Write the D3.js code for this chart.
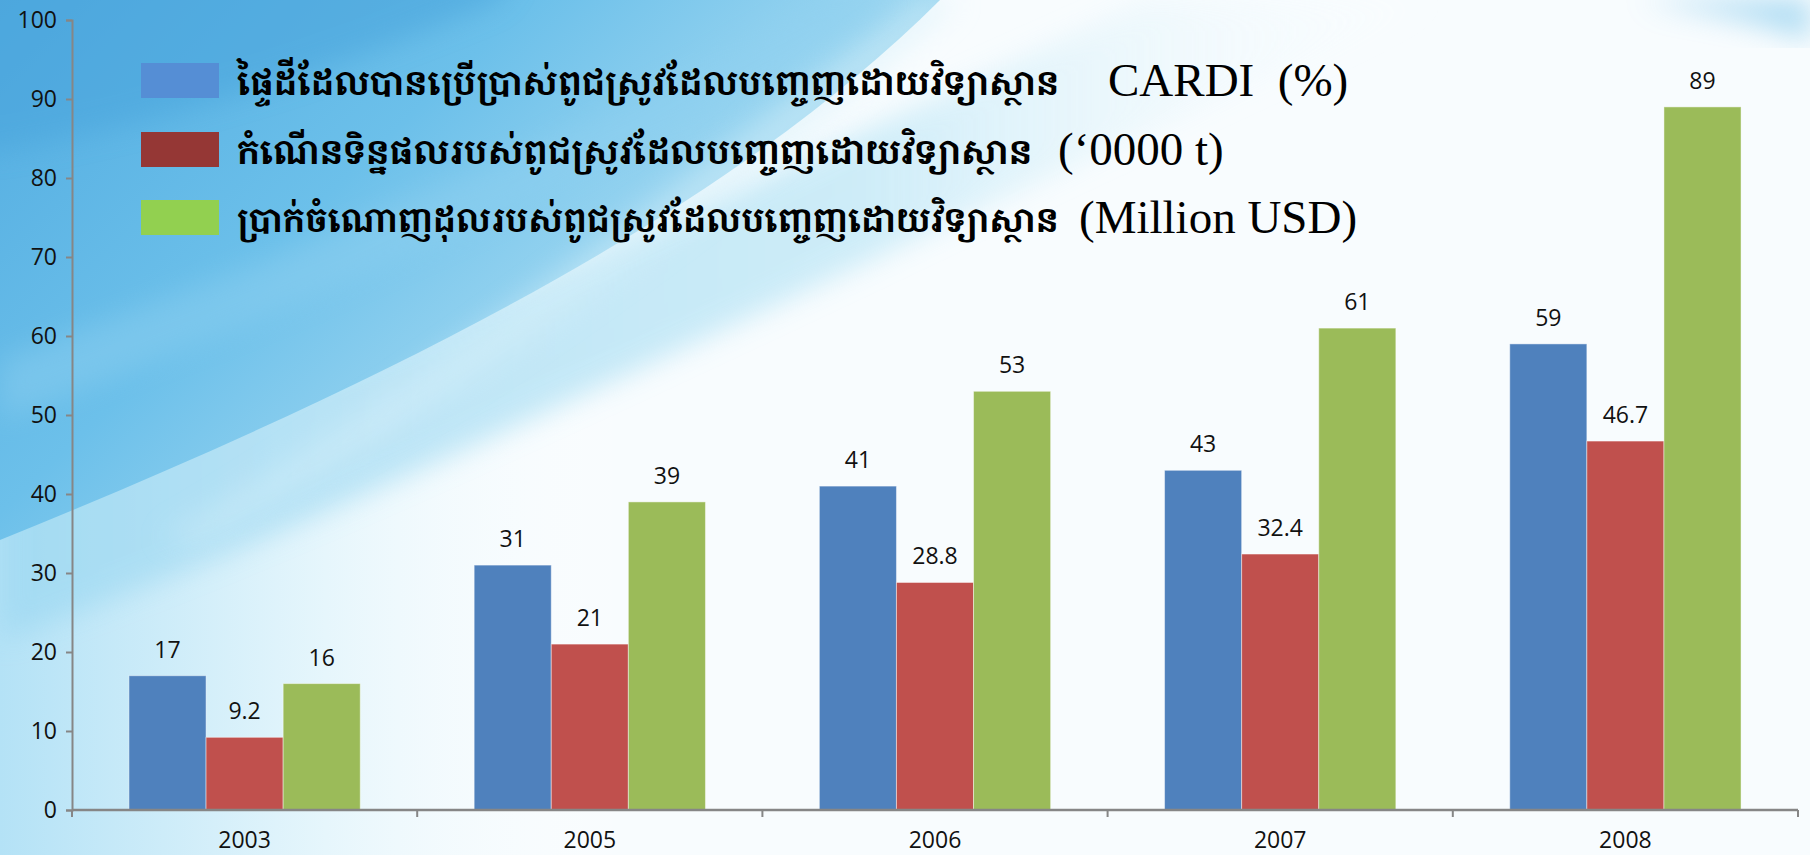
<!DOCTYPE html>
<html>
<head>
<meta charset="utf-8">
<script src="https://cdn.jsdelivr.net/npm/d3@7"></script>
<style>
  body { margin: 0; overflow: hidden; background: #fff; }
</style>
</head>
<body>
<div id="chart"></div>
<script>
// Data
const years = ['2003', '2005', '2006', '2007', '2008'];
const areaPct = [17, 31, 41, 43, 59];          // area planted, CARDI (%)
const yieldGain = [9.2, 21, 28.8, 32.4, 46.7]; // yield increase ('0000 t)
const grossIncome = [16, 39, 53, 61, 89];      // gross income (Million USD)

const seriesNames = [
  'ផ្ទៃដីដែលបានប្រើប្រាស់ពូជស្រូវដែលបញ្ចេញដោយវិទ្យាស្ថាន',
  'កំណើនទិន្នផលរបស់ពូជស្រូវដែលបញ្ចេញដោយវិទ្យាស្ថាន',
  'ប្រាក់ចំណោញដុលរបស់ពូជស្រូវដែលបញ្ចេញដោយវិទ្យាស្ថាន'
];
const seriesUnits = ['CARDI  (%)', '(‘0000 t)', '(Million USD)'];
const yTicks = d3.range(0, 101, 10);

const barColors = ['#4f81bd', '#c0504d', '#9bbb59'];
const legendColors = ['#558ed5', '#953735', '#92d050'];

const width = 1810, height = 855;
const svg = d3.select('#chart').append('svg')
  .attr('width', width)
  .attr('height', height);

// ---- slide background (blue swooshes) ----
const defs = svg.append('defs');
const blur = defs.append('filter').attr('id', 'blur').attr('x', '-20%').attr('y', '-20%')
  .attr('width', '140%').attr('height', '140%');
blur.append('feGaussianBlur').attr('stdDeviation', 14);

const leftFade = defs.append('linearGradient').attr('id', 'leftFade')
  .attr('x1', 0).attr('y1', 0).attr('x2', 1).attr('y2', 0);
leftFade.append('stop').attr('offset', 0).attr('stop-color', '#b4e2f6');
leftFade.append('stop').attr('offset', 0.18).attr('stop-color', '#e6f6fc');
leftFade.append('stop').attr('offset', 0.35).attr('stop-color', '#ffffff').attr('stop-opacity', 0);

const swoosh = defs.append('linearGradient').attr('id', 'swoosh')
  .attr('x1', 0).attr('y1', 0).attr('x2', 1).attr('y2', 0.6);
swoosh.append('stop').attr('offset', 0).attr('stop-color', '#4ea9df');
swoosh.append('stop').attr('offset', 0.45).attr('stop-color', '#6cc0ea');
swoosh.append('stop').attr('offset', 0.8).attr('stop-color', '#a9dcf2');
swoosh.append('stop').attr('offset', 1).attr('stop-color', '#e8f6fc');

const band = defs.append('linearGradient').attr('id', 'band')
  .attr('x1', 0).attr('y1', 0).attr('x2', 1).attr('y2', 0);
band.append('stop').attr('offset', 0).attr('stop-color', '#9fd9f2');
band.append('stop').attr('offset', 0.6).attr('stop-color', '#c4e9f7');
band.append('stop').attr('offset', 1).attr('stop-color', '#ffffff').attr('stop-opacity', 0);

const bg = svg.append('g');
bg.append('rect').attr('width', width).attr('height', height).attr('fill', '#f8fcfe');
bg.append('rect').attr('width', width).attr('height', height).attr('fill', 'url(#leftFade)');
// light band under the blue swoosh
bg.append('path')
  .attr('d', 'M0,470 C250,420 600,250 1150,0 L1450,0 C900,230 450,480 0,640 Z')
  .attr('fill', 'url(#band)').attr('opacity', 0.8).attr('filter', 'url(#blur)');
// main blue swoosh
bg.append('path')
  .attr('d', 'M-40,-40 L960,-40 L940,0 C740,200 420,370 0,540 L-40,540 Z')
  .attr('fill', 'url(#swoosh)');
// darker arc at the top-left corner
bg.append('path')
  .attr('d', 'M-40,-40 L520,-40 L500,0 C360,60 180,120 0,150 L-40,150 Z')
  .attr('fill', '#4aa4dc').attr('opacity', 0.55).attr('filter', 'url(#blur)');
// lighter streaks inside the swoosh
bg.append('path')
  .attr('d', 'M160,540 C420,390 680,180 920,0 L960,0 C740,200 450,410 200,540 Z')
  .attr('fill', '#d6f0fa').attr('opacity', 0.5).attr('filter', 'url(#blur)');
bg.append('path')
  .attr('d', 'M0,360 C300,250 620,120 820,0 L900,0 C650,160 330,300 0,420 Z')
  .attr('fill', '#8fd0f0').attr('opacity', 0.45).attr('filter', 'url(#blur)');
// top-right corner tint
bg.append('path')
  .attr('d', 'M1640,0 L1810,0 L1810,40 C1760,20 1700,12 1640,0 Z')
  .attr('fill', '#8ccdee').attr('opacity', 0.7).attr('filter', 'url(#blur)');

// ---- chart ----
const margin = { left: 72, right: 12, top: 20, bottom: 45 };
const plotW = width - margin.left - margin.right;
const plotH = height - margin.top - margin.bottom;
const g = svg.append('g').attr('transform', `translate(${margin.left},${margin.top})`);
const labelFont = '"Open Sans", sans-serif';

const x0 = d3.scaleBand().domain(years).range([0, plotW])
  .paddingInner(0.33).paddingOuter(0.165);
const x1 = d3.scaleBand().domain([0, 1, 2]).range([0, x0.bandwidth()]);
const y = d3.scaleLinear().domain([0, 100]).range([plotH, 0]);

const table = years.map((yr, i) => ({
  year: yr,
  values: [areaPct[i], yieldGain[i], grossIncome[i]]
}));

const groups = g.selectAll('.grp').data(table).enter().append('g')
  .attr('transform', d => `translate(${x0(d.year)},0)`);

groups.selectAll('rect').data(d => d.values).enter().append('rect')
  .attr('x', (d, i) => x1(i))
  .attr('y', d => y(d))
  .attr('width', x1.bandwidth())
  .attr('height', d => plotH - y(d))
  .attr('fill', (d, i) => barColors[i])
  .attr('stroke', 'rgba(255,255,255,0.45)')
  .attr('stroke-width', 1);

groups.selectAll('text').data(d => d.values).enter().append('text')
  .attr('x', (d, i) => x1(i) + x1.bandwidth() / 2)
  .attr('y', d => y(d) - 18)
  .attr('text-anchor', 'middle')
  .style('font-family', labelFont)
  .style('font-size', '23px')
  .attr('fill', '#111')
  .text(d => d);

// y axis
const yAxis = d3.axisLeft(y).tickValues(yTicks).tickSize(6).tickPadding(9);
const yg = g.append('g').call(yAxis);
yg.select('.domain').attr('stroke', '#868686').attr('stroke-width', 2);
yg.selectAll('.tick line').attr('stroke', '#868686').attr('stroke-width', 2);
yg.selectAll('.tick text')
  .style('font-family', labelFont)
  .style('font-size', '23px')
  .attr('fill', '#111');

// x axis: ticks between categories, Excel-style
const step = x0.step();
const xg = g.append('g').attr('transform', `translate(0,${plotH})`);
xg.append('line').attr('x1', 0).attr('x2', plotW)
  .attr('stroke', '#868686').attr('stroke-width', 2.5);
xg.selectAll('.xt').data(d3.range(0, years.length + 1)).enter().append('line')
  .attr('x1', i => i * step).attr('x2', i => i * step)
  .attr('y1', 0).attr('y2', 7)
  .attr('stroke', '#868686').attr('stroke-width', 2);
xg.selectAll('.xl').data(years).enter().append('text')
  .attr('x', d => x0(d) + x0.bandwidth() / 2)
  .attr('y', 38)
  .attr('text-anchor', 'middle')
  .style('font-family', labelFont)
  .style('font-size', '23px')
  .attr('fill', '#111')
  .text(d => d);

// legend
const legendRows = [81, 150, 218];
const khmerEnd = [1060, 1034, 1060];
const unitX = [1108, 1058, 1079];
const legend = svg.append('g');
seriesNames.forEach((name, i) => {
  legend.append('rect')
    .attr('x', 141).attr('y', legendRows[i] - 18)
    .attr('width', 78).attr('height', 35)
    .attr('fill', legendColors[i]);
  const kh = legend.append('text')
    .attr('x', 237).attr('y', legendRows[i] + 14)
    .style('font-family', '"Khmer OS Muol Light", "Noto Serif Khmer", "Noto Sans Khmer", serif')
    .style('font-size', '42px')
    .style('font-weight', 'bold')
    .attr('fill', '#000')
    .text(name);
  // shrink the Khmer run so it ends where the unit text begins
  const natural = kh.node().getComputedTextLength();
  const room = khmerEnd[i] - 237;
  if (natural > room) kh.style('font-size', (42 * room / natural).toFixed(1) + 'px');
  legend.append('text')
    .attr('x', unitX[i]).attr('y', legendRows[i] + 15)
    .style('font-family', '"Liberation Serif", "Times New Roman", serif')
    .style('font-size', '47px')
    .attr('fill', '#000')
    .style('white-space', 'pre')
    .text(seriesUnits[i]);
});
</script>
</body>
</html>
